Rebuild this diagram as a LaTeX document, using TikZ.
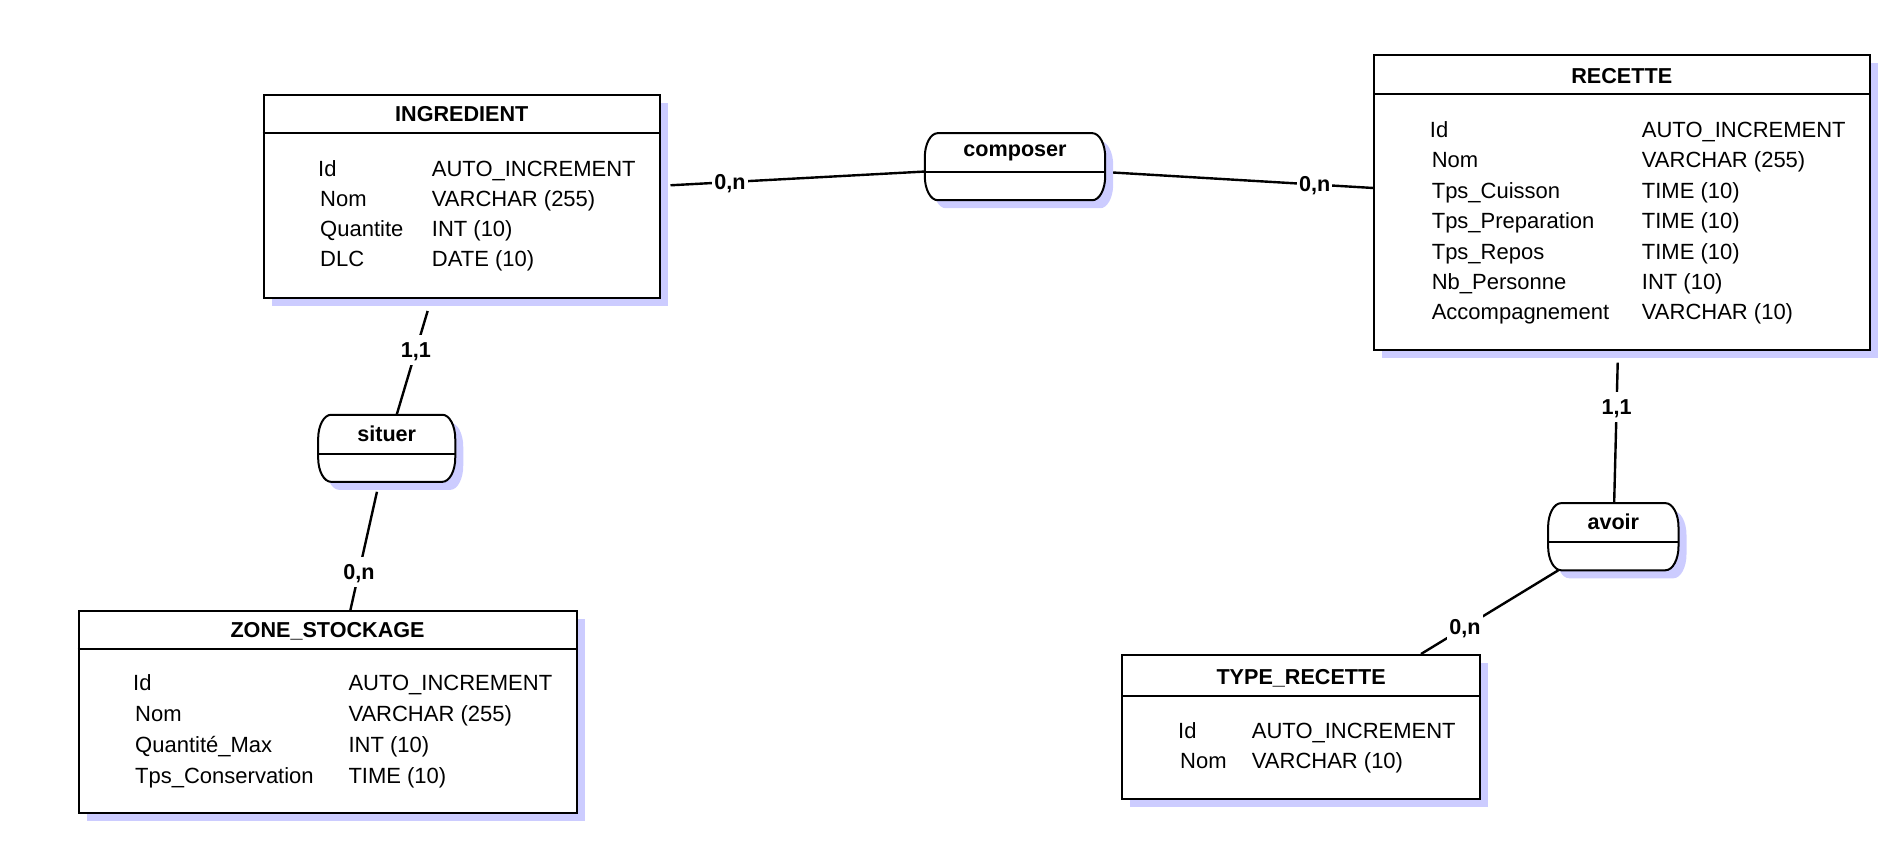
\documentclass[tikz,border=0pt]{standalone}
\usepackage{fontspec}
\setmainfont{Liberation Sans}
\usetikzlibrary{calc,shadows}
\definecolor{shadowc}{RGB}{204,204,255}

\tikzset{
  entity/.style={rectangle, draw=black, line width=2pt, fill=white, inner sep=0pt,
    drop shadow={shadow xshift=8pt, shadow yshift=-8pt, fill=shadowc, opacity=1}},
  relation/.style={rectangle, draw=none, inner sep=0pt},
  reloutline/.style={draw=black, line width=2pt, fill=white},
  title/.style={font=\fontsize{21.6}{26}\selectfont\bfseries, anchor=base, inner sep=0pt},
  attr/.style={font=\fontsize{22}{26}\selectfont, anchor=base west, inner sep=0pt},
  headsep/.style={line width=2pt},
  midsep/.style={line width=1.6pt},
  conn/.style={line width=2.4pt},
  card/.style={font=\fontsize{21.6}{26}\selectfont\bfseries, fill=white,
    inner xsep=2pt, inner ysep=3pt, text height=19.5pt, text depth=4.6pt},
}

% outline of an association: straight top and bottom, elliptic ends
\newcommand\relcurve[1]{%
  ($(#1.north west)+(13,0)$) -- ($(#1.north east)+(-13,0)$)
  .. controls ($(#1.north east)+(-5.8,0)$) and ($(#1.north east)+(0,10.8)$) .. ($(#1.north east)+(0,24)$)
  -- ($(#1.south east)+(0,-24)$)
  .. controls ($(#1.south east)+(0,-10.8)$) and ($(#1.south east)+(-5.8,0)$) .. ($(#1.south east)+(-13,0)$)
  -- ($(#1.south west)+(13,0)$)
  .. controls ($(#1.south west)+(5.8,0)$) and ($(#1.south west)+(0,-10.8)$) .. ($(#1.south west)+(0,-24)$)
  -- ($(#1.north west)+(0,24)$)
  .. controls ($(#1.north west)+(0,10.8)$) and ($(#1.north west)+(5.8,0)$) .. ($(#1.north west)+(13,0)$)
  -- cycle}

\newcommand\drawassoc[1]{%
  \begin{scope}[transform canvas={xshift=8pt,yshift=-8pt}]
    \fill[shadowc] \relcurve{#1};
  \end{scope}
  \path[reloutline] \relcurve{#1};
  \draw[midsep] ($(#1.north west)+(0,39)$) -- ($(#1.north east)+(0,39)$);
}

\begin{document}
\begin{tikzpicture}[x=1pt,y=-1pt]
\useasboundingbox (0,0) rectangle (1895,858);

% ---------- entities ----------
\node[entity, minimum width=396.5pt, minimum height=203pt] (ing) at (461.75,196.5) {};
\draw[headsep] ($(ing.north west)+(0,39.5)$) -- ($(ing.north east)+(0,39.5)$);
\node[title] (ing-t) at (461.75,121.7) {INGREDIENT};
\node[attr] (ing-n1) at (318,176.7) {Id};
\node[attr] (ing-n2) at (320,206.7) {Nom};
\node[attr] (ing-n3) at (320,236.7) {Quantite};
\node[attr] (ing-n4) at (320,266.7) {DLC};
\node[attr] (ing-d1) at (431.7,176.7) {AUTO\_INCREMENT};
\node[attr] (ing-d2) at (431.7,206.7) {VARCHAR (255)};
\node[attr] (ing-d3) at (431.7,236.7) {INT (10)};
\node[attr] (ing-d4) at (431.7,266.7) {DATE (10)};

\node[entity, minimum width=495.5pt, minimum height=294.5pt] (rec) at (1621.75,202.75) {};
\draw[headsep] ($(rec.north west)+(0,39.5)$) -- ($(rec.north east)+(0,39.5)$);
\node[title] (rec-t) at (1621.75,83.3) {RECETTE};
\node[attr] (rec-n1) at (1429.7,137.3) {Id};
\node[attr] (rec-n2) at (1431.6,167.75) {Nom};
\node[attr] (rec-n3) at (1431.6,198.2) {Tps\_Cuisson};
\node[attr] (rec-n4) at (1431.6,228.65) {Tps\_Preparation};
\node[attr] (rec-n5) at (1431.6,259.1) {Tps\_Repos};
\node[attr] (rec-n6) at (1431.6,289.55) {Nb\_Personne};
\node[attr] (rec-n7) at (1431.6,320) {Accompagnement};
\node[attr] (rec-d1) at (1641.7,137.3) {AUTO\_INCREMENT};
\node[attr] (rec-d2) at (1641.7,167.75) {VARCHAR (255)};
\node[attr] (rec-d3) at (1641.7,198.2) {TIME (10)};
\node[attr] (rec-d4) at (1641.7,228.65) {TIME (10)};
\node[attr] (rec-d5) at (1641.7,259.1) {TIME (10)};
\node[attr] (rec-d6) at (1641.7,289.55) {INT (10)};
\node[attr] (rec-d7) at (1641.7,320) {VARCHAR (10)};

\node[entity, minimum width=498.1pt, minimum height=202.3pt] (zone) at (327.55,712.15) {};
\draw[headsep] ($(zone.north west)+(0,39)$) -- ($(zone.north east)+(0,39)$);
\node[title] (zone-t) at (327.55,637.3) {ZONE\_STOCKAGE};
\node[attr] (zone-n1) at (133,690.7) {Id};
\node[attr] (zone-n2) at (135,721.6) {Nom};
\node[attr] (zone-n3) at (135,752.4) {Quantité\_Max};
\node[attr] (zone-n4) at (135,783.3) {Tps\_Conservation};
\node[attr] (zone-d1) at (348.3,690.7) {AUTO\_INCREMENT};
\node[attr] (zone-d2) at (348.3,721.6) {VARCHAR (255)};
\node[attr] (zone-d3) at (348.3,752.4) {INT (10)};
\node[attr] (zone-d4) at (348.3,783.3) {TIME (10)};

\node[entity, minimum width=357.7pt, minimum height=144.3pt] (typ) at (1301.15,727.15) {};
\draw[headsep] ($(typ.north west)+(0,41.7)$) -- ($(typ.north east)+(0,41.7)$);
\node[title] (typ-t) at (1301.15,684) {TYPE\_RECETTE};
\node[attr] (typ-n1) at (1178,738.3) {Id};
\node[attr] (typ-n2) at (1180,768.3) {Nom};
\node[attr] (typ-d1) at (1251.7,738.3) {AUTO\_INCREMENT};
\node[attr] (typ-d2) at (1251.7,768.3) {VARCHAR (10)};

% ---------- associations ----------
\node[relation, minimum width=180pt, minimum height=66.7pt] (comp) at (1015,166.7) {};
\drawassoc{comp}
\node[title] (comp-t) at (1015,156.7) {composer};

\node[relation, minimum width=136.7pt, minimum height=66.7pt] (sit) at (386.7,448.3) {};
\drawassoc{sit}
\node[title] (sit-t) at (386.7,441.7) {situer};

\node[relation, minimum width=130pt, minimum height=66.7pt] (avo) at (1613.3,536.7) {};
\drawassoc{avo}
\node[title] (avo-t) at (1613.3,529.3) {avoir};

% ---------- links ----------
\draw[conn, shorten <=9.5pt] (ing) -- (comp);
\draw[conn, shorten <=8pt] (comp) -- (rec);
\draw[conn, shorten <=12.5pt] (ing) -- (sit);
\draw[conn, shorten <=10.2pt] (sit) -- (zone);
\draw[conn, shorten <=11.7pt] (rec) -- (avo);
\draw[conn] (avo) -- (typ);

% ---------- cardinalities ----------
\node[card] (k1) at ($(ing)!0.485!(comp)$) {0,n};
\node[card] (k2) at ($(comp)!0.494!(rec)$) {0,n};
\node[card] (k3) at ($(ing)!0.61!(sit)$) {1,1};
\node[card] (k4) at ($(sit)!0.468!(zone)$) {0,n};
\node[card] (k5) at ($(rec)!0.611!(avo)$) {1,1};
\node[card] (k6) at ($(avo)!0.475!(typ)$) {0,n};
\end{tikzpicture}
\end{document}
